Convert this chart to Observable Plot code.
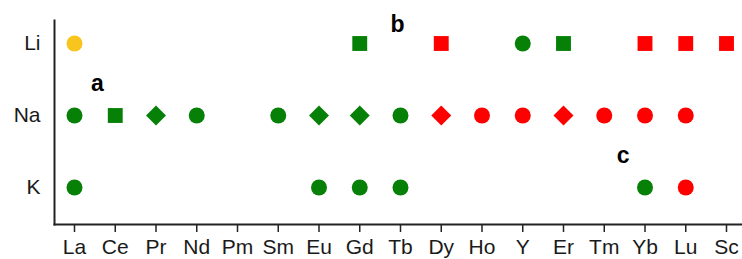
<!DOCTYPE html>
<html><head><meta charset="utf-8">
<script src="https://cdn.jsdelivr.net/npm/d3@7"></script>
<script src="https://cdn.jsdelivr.net/npm/@observablehq/plot@0.6"></script>
<style>body{margin:0;background:#fff;overflow:hidden}</style>
</head><body><div id="chart"></div>
<script>
const elements = ["La","Ce","Pr","Nd","Pm","Sm","Eu","Gd","Tb","Dy","Ho","Y","Er","Tm","Yb","Lu","Sc"];
const cations = ["Li","Na","K"];

const liElements = ["La","Gd","Dy","Y","Er","Yb","Lu","Sc"];
const liShapes   = ["circle","square","square","circle","square","square","square","square"];
const liClasses  = ["Y","G","R","G","G","R","R","R"];

const naElements = ["La","Ce","Pr","Nd","Sm","Eu","Gd","Tb","Dy","Ho","Y","Er","Tm","Yb","Lu"];
const naShapes   = ["circle","square","diamond","circle","circle","diamond","diamond","circle","diamond","circle","circle","diamond","circle","circle","circle"];
const naClasses  = ["G","G","G","G","G","G","G","G","R","R","R","R","R","R","R"];

const kElements = ["La","Eu","Gd","Tb","Yb","Lu"];
const kShapes   = ["circle","circle","circle","circle","circle","circle"];
const kClasses  = ["G","G","G","G","G","R"];

const panelLabels   = ["a","b","c"];
const labelElements = ["La","Tb","Tm"];
const labelCations  = ["Na","Li","Na"];

const rows = [];
function addRows(cation, els, shapes, classes) {
  els.forEach((e, i) => rows.push({element: e, cation, shape: shapes[i], cls: classes[i]}));
}
addRows("Li", liElements, liShapes, liClasses);
addRows("Na", naElements, naShapes, naClasses);
addRows("K", kElements, kShapes, kClasses);

const labels = panelLabels.map((t, i) => ({text: t, element: labelElements[i], cation: labelCations[i]}));

const colorScale = {domain: ["G","R","Y"], range: ["#078007","#ff0000","#f8c41e"]};
const labelOffsets = {a: [23, -32], b: [-3, -19], c: [19, 40]};

const chart = Plot.plot({
  width: 742,
  height: 259,
  marginLeft: 54,
  marginRight: 0,
  marginTop: 20,
  marginBottom: 35,
  style: {fontFamily: "'Liberation Sans', Arial, sans-serif", fontSize: "21px", color: "#1a1a1a", background: "#fff"},
  x: {type: "point", domain: elements, range: [74, 726], padding: 0, round: false, label: null},
  y: {type: "point", domain: cations, range: [43, 187], padding: 0, round: false, label: null},
  color: colorScale,
  marks: [
    Plot.frame({anchor: "bottom", stroke: "#222", strokeWidth: 2}),
    Plot.frame({anchor: "left", stroke: "#222", strokeWidth: 2}),
    Plot.axisX({tickSize: 8, tickPadding: 7, fontSize: 21, stroke: "#222", strokeWidth: 1.5, label: null}),
    Plot.axisY({tickSize: 0, tickPadding: 14, fontSize: 21, label: null}),
    Plot.dot(rows.filter(d => d.shape === "circle"), {x: "element", y: "cation", fill: "cls", symbol: "circle", r: 8}),
    Plot.dot(rows.filter(d => d.shape === "square"), {x: "element", y: "cation", fill: "cls", symbol: "square", r: 8.4}),
    Plot.dot(rows.filter(d => d.shape === "diamond"), {x: "element", y: "cation", fill: "cls", symbol: "diamond2", r: 9}),
    ...labels.map(l => Plot.text([l], {x: "element", y: "cation", text: "text", dx: labelOffsets[l.text][0], dy: labelOffsets[l.text][1], fontSize: 23, fontWeight: "bold", fill: "#000"}))
  ]
});
document.getElementById("chart").appendChild(chart);
</script>
</body></html>
